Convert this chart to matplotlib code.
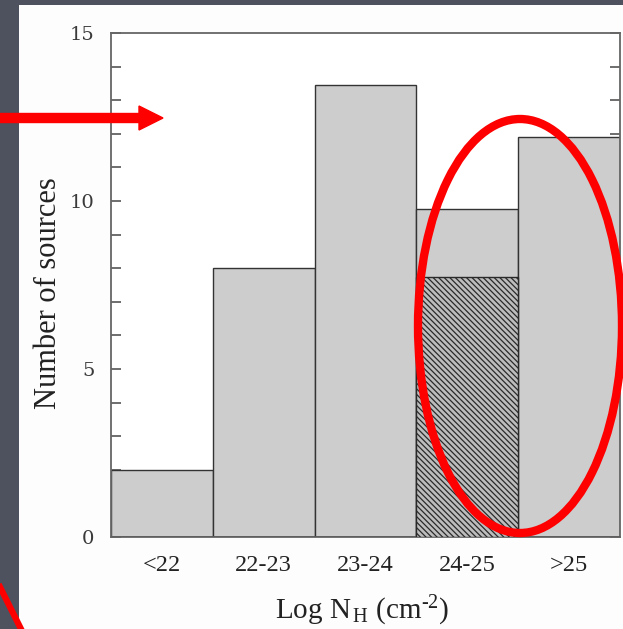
import matplotlib
matplotlib.use('Agg')
import matplotlib.pyplot as plt
import numpy as np
from matplotlib.patches import Rectangle, Ellipse, FancyArrow
from matplotlib.lines import Line2D
from matplotlib.ticker import MultipleLocator

# 柱状图数据：各 NH 区间的源数目
bins = ['<22', '22-23', '23-24', '24-25', '>25']
counts = [2, 8, 13.45, 9.75, 11.9]
# 24-25 区间中阴影部分
hatched = [0, 0, 0, 7.75, 0]

plt.rcParams['font.family'] = ['Liberation Serif', 'DejaVu Serif']
plt.rcParams['mathtext.fontset'] = 'custom'
plt.rcParams['mathtext.rm'] = 'Liberation Serif'
plt.rcParams['mathtext.it'] = 'Liberation Serif:italic'
plt.rcParams['hatch.linewidth'] = 0.9

W, H = 623, 629
fig = plt.figure(figsize=(W / 100, H / 100), dpi=100)
fig.patch.set_facecolor('#4d525e')

def px(x, y):
    # 像素坐标（左上为原点）转换为 figure 坐标
    return x / W, 1 - y / H

# 白色幻灯片底板
x0, y0 = px(19, H)
fig.add_artist(Rectangle((x0, y0), 1 - x0, 1 - 5 / H, transform=fig.transFigure,
                         facecolor='#fdfdfd', edgecolor='none', zorder=0))

ax = fig.add_axes([111 / W, (H - 537) / H, (620 - 111) / W, (537 - 33) / H])
ax.set_facecolor('white')

x = np.arange(len(bins)) + 0.5
ax.bar(x, counts, width=1.0, color='#cdcdcd', edgecolor='#333333', linewidth=1.0, zorder=2)
ax.bar(x, hatched, width=1.0, color='#bdbdbd', edgecolor='#2a2a2a', linewidth=1.0,
       hatch='\\\\\\\\\\\\', zorder=3)

ax.set_xlim(0, len(bins))
ax.set_ylim(0, 15)
ax.set_xticks(x)
ax.set_xticklabels(bins, fontsize=17.5, color='#222222')
ax.tick_params(axis='x', length=0, pad=13)

ax.yaxis.set_major_locator(MultipleLocator(5))
ax.yaxis.set_minor_locator(MultipleLocator(1))
ax.tick_params(axis='y', which='both', direction='in', left=True, right=True,
               length=7, width=1.2, color='#555555', pad=12)
for lab in ax.get_yticklabels():
    lab.set_fontfamily('DejaVu Serif')
    lab.set_fontsize(14)
    lab.set_color('#3a3a3a')

for s in ax.spines.values():
    s.set_color('#666666')
    s.set_linewidth(1.3)

ax.set_ylabel('Number of sources', fontsize=22, color='#222222')
ax.yaxis.set_label_coords(-0.094, 0.484)
ax.set_xlabel(r'Log N$_{\,\mathrm{H}}$ (cm$^{\text{-2}}$)', fontsize=21, color='#222222')
ax.xaxis.set_label_coords(0.493, -0.112)
ax.xaxis.label.set_va('top')

# 红色箭头
ax_, ay_ = px(0, 118)
fig.add_artist(FancyArrow(ax_, ay_, 163 / W, 0, width=9 / H, head_width=24 / H,
                          head_length=24 / W, length_includes_head=True,
                          transform=fig.transFigure, color='#fe0000', zorder=10))

# 红色椭圆圈出 24-25 和 >25 两个区间
ex, ey = px(520, 326)
fig.add_artist(Ellipse((ex, ey), 204 / W, 414 / H, transform=fig.transFigure,
                       fill=False, edgecolor='#fe0000', linewidth=6, zorder=10))

# 左下角的红线
lx0, ly0 = px(0, 587)
lx1, ly1 = px(21, 629)
fig.add_artist(Line2D([lx0, lx1], [ly0, ly1], transform=fig.transFigure,
                      color='#fe0000', linewidth=4.5, zorder=10))

fig.savefig('out.png', dpi=100, facecolor=fig.get_facecolor())
